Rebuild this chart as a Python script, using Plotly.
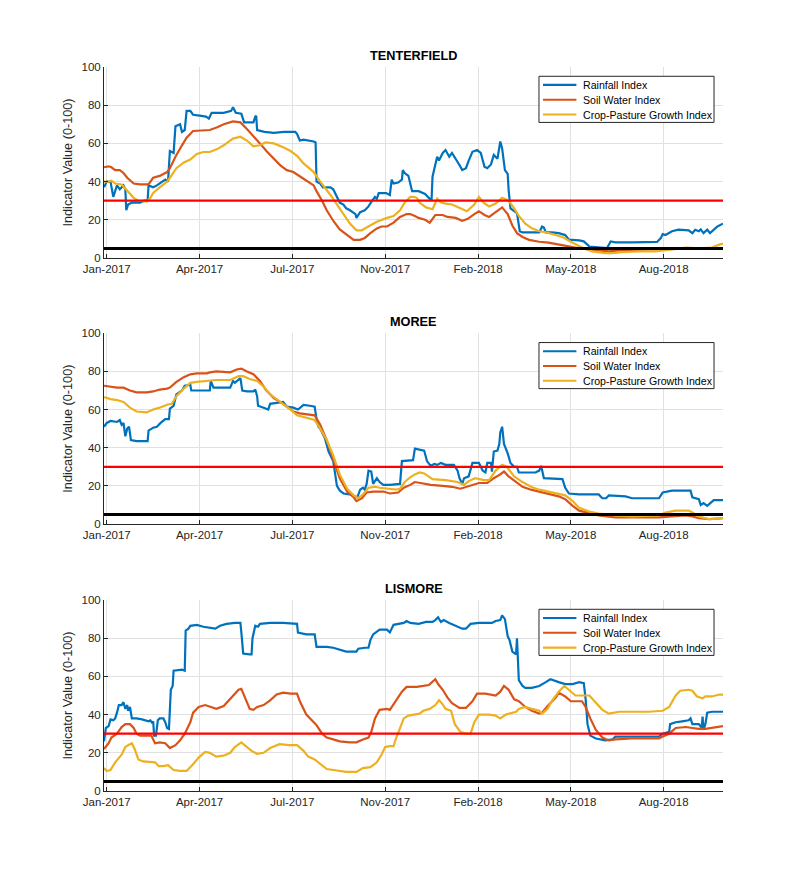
import pandas as pd
import plotly.graph_objects as go

# ---------------- axis / label constants ----------------
BASE_DATE = "2017-01-01"          # day 0
X_START_DAY = 1
X_END_DAY = 668
TICK_START = "2017-01-05"
TICK_STEP_DAYS = 100
TICK_LABELS = ["Jan-2017", "Apr-2017", "Jul-2017", "Nov-2017", "Feb-2018", "May-2018", "Aug-2018"]
Y_TICKS = [0, 20, 40, 60, 80, 100]
Y_TITLE = "Indicator Value (0-100)"
RED_THRESHOLD = 30
BLACK_THRESHOLD = 5
SITES = ["TENTERFIELD", "MOREE", "LISMORE"]
SERIES_NAMES = ["Rainfall Index", "Soil Water Index", "Crop-Pasture Growth Index"]
COLORS = ["#0072BD", "#D95319", "#EDB120"]

# ---------------- data: (day since 2017-01-01, value) ----------------
TENT_RAIN = [(1, 37), (4, 40), (8, 40), (11, 32), (15, 38), (18, 36), (22, 38), (24, 36), (25, 25), (27, 28),
             (31, 29), (40, 29), (44, 30), (48, 30), (49, 38), (54, 37), (58, 38), (65, 40), (67, 41), (70, 40),
             (72, 56), (76, 55), (78, 69), (83, 70), (85, 66), (88, 67), (90, 77), (94, 77), (97, 75), (104, 74.5),
             (111, 74), (114, 73), (117, 76), (123, 76), (130, 76), (138, 77), (140, 79), (143, 76), (149, 75.5),
             (152, 71), (162, 71), (164, 74), (165, 74.5), (166, 67), (174, 66), (184, 65.5), (195, 66), (207, 66),
             (209, 65), (212, 61.5), (216, 62), (227, 61), (229, 60.5), (230, 40), (234, 39), (237, 37), (245, 37),
             (248, 36), (252, 32), (255, 29), (259, 28), (262, 26), (266, 25), (272, 23), (273, 21), (277, 24),
             (282, 25), (286, 27), (290, 30), (293, 32), (295, 31), (297, 34), (305, 34), (309, 33), (311, 41),
             (313, 39), (318, 39.5), (322, 41), (323, 46), (325, 44.5), (329, 43), (333, 35), (340, 35), (347, 33.5),
             (352, 31), (354, 31), (355, 42.6), (358, 48.7), (360, 53), (362, 51), (366, 55), (369, 56.5), (373, 53),
             (376, 55), (380, 52), (384, 48.7), (387, 46), (391, 47), (394, 51), (398, 55.6), (403, 56.5), (407, 55),
             (411, 47.8), (414, 47), (418, 49), (421, 54), (425, 52), (428, 61), (430, 57.4), (433, 46), (436, 44),
             (437, 35.6), (439, 26), (443, 24.3), (446, 23.5), (449, 14), (452, 13.4), (470, 13.4), (473, 16.5),
             (475, 16), (477, 13.4), (484, 13.4), (491, 13), (498, 12), (502, 9.6), (513, 9.2), (518, 8.7), (524, 6),
             (534, 5.7), (543, 5.2), (547, 8.7), (552, 8.2), (570, 8.2), (588, 8.2), (597, 8.4), (601, 10.4),
             (603, 12.5), (606, 12), (613, 14), (620, 14.8), (631, 14.5), (635, 13), (638, 14.8), (642, 14),
             (644, 15), (647, 13), (651, 14.8), (654, 13), (658, 15), (662, 16.5), (668, 18)]
TENT_SOIL = [(1, 47.5), (6, 48), (9, 47.5), (13, 46), (18, 46), (22, 44.5), (26, 42), (33, 39), (40, 38.5), (49, 38.5),
             (51, 40), (54, 42), (61, 43), (69, 45), (72, 47), (78, 53), (85, 59), (90, 63), (97, 66.5), (108, 67),
             (115, 67), (123, 68.5), (130, 70), (140, 71.5), (148, 71), (155, 67.5), (162, 64), (169, 60), (176, 56),
             (184, 52), (191, 48.5), (198, 46), (205, 45), (216, 41.5), (227, 38), (230, 35), (236, 30), (241, 25),
             (248, 19.5), (255, 15), (263, 12), (270, 9.5), (277, 9.5), (282, 10.5), (288, 13), (295, 15.5),
             (300, 16.5), (306, 16.5), (313, 18.5), (320, 21.5), (327, 23), (331, 23), (336, 22), (340, 21),
             (347, 20), (352, 18.5), (358, 22.5), (366, 22.5), (371, 21.5), (380, 21), (387, 19.5), (393, 20.5),
             (400, 23), (405, 24.5), (411, 22.5), (416, 21.5), (423, 24), (430, 26.5), (436, 23), (441, 17),
             (446, 13), (452, 11), (459, 9.5), (470, 8.5), (480, 8), (491, 7), (502, 6), (513, 5), (524, 4.5),
             (534, 4), (545, 3.5), (556, 4), (570, 4), (588, 4.5), (606, 4.7), (624, 5), (642, 5), (668, 5.2)]
TENT_CROP = [(1, 40), (6, 40), (9, 40.5), (13, 39), (20, 38.5), (26, 35), (33, 31.5), (38, 30), (47, 29.5), (51, 31.5),
             (54, 34), (61, 37), (69, 40), (72, 42), (79, 47), (87, 50), (94, 51.5), (101, 54.5), (108, 55.5),
             (115, 55.5), (123, 57), (130, 59), (140, 62.5), (148, 63.5), (155, 61.5), (162, 58.5), (169, 59),
             (175, 60.5), (184, 60), (194, 58), (202, 56), (209, 53.5), (216, 49.5), (227, 45), (234, 40), (245, 33),
             (255, 26), (266, 18), (273, 14.5), (279, 14.5), (284, 16), (295, 19), (306, 21), (313, 22), (320, 25),
             (325, 29), (331, 32), (335, 32), (338, 31.5), (341, 29), (348, 26.5), (355, 25.5), (360, 31), (364, 29),
             (369, 28.5), (376, 28), (385, 26), (392, 24.5), (400, 28), (405, 32), (410, 29), (416, 27), (423, 28.5),
             (430, 31.5), (437, 30), (443, 26), (448, 22), (455, 18), (462, 15.5), (470, 14), (477, 13.5),
             (484, 12.5), (495, 11), (506, 8), (516, 5.5), (527, 3.5), (541, 2.5), (549, 2.5), (559, 3), (577, 3.5),
             (595, 3.5), (613, 4.5), (628, 5.5), (642, 5), (656, 5.5), (664, 7), (668, 7.5)]

MOREE_RAIN = [(1, 51), (4, 53), (8, 54), (15, 53.5), (18, 54.5), (20, 52), (22, 53), (24, 46), (26, 50), (28, 51),
              (30, 44), (36, 43.5), (48, 43.5), (49, 49), (54, 50.5), (58, 51), (62, 53), (67, 55), (71, 55),
              (72, 60.5), (76, 62), (79, 68), (85, 70), (88, 72.5), (94, 73), (95, 70), (108, 70), (115, 70),
              (116, 75), (119, 71.5), (137, 71.5), (140, 75), (142, 74), (146, 76), (148, 76.5), (150, 70),
              (155, 69.5), (162, 69.5), (164, 70.5), (166, 67), (167, 62), (173, 61), (178, 60), (180, 63),
              (187, 63.5), (194, 64), (198, 61.5), (205, 61), (210, 60), (216, 62.5), (223, 62), (228, 61.5),
              (230, 55), (232, 51), (234, 50), (239, 45), (243, 38), (248, 33), (252, 20), (255, 17.5), (259, 16),
              (266, 15.5), (271, 14.5), (274, 14), (277, 18), (280, 19), (282, 18), (284, 21), (286, 28), (289, 27.5),
              (291, 21), (295, 24), (298, 22), (302, 20.5), (309, 20.5), (320, 21), (322, 33), (329, 33.5),
              (334, 33.5), (336, 39.5), (346, 38.5), (349, 33), (353, 30.5), (357, 31.5), (360, 31), (364, 32),
              (369, 31), (378, 31), (382, 28), (384, 24), (387, 21), (389, 24), (394, 25), (398, 32), (405, 32),
              (409, 28), (412, 27), (414, 32), (418, 32), (419, 27.5), (421, 38), (425, 38.5), (427, 42), (428, 48),
              (430, 51), (432, 42), (436, 37), (439, 32), (443, 30), (446, 30), (448, 27), (466, 27), (470, 28),
              (472, 30.5), (473, 28), (475, 24), (495, 23.5), (498, 19), (502, 16), (513, 15.5), (534, 15.5),
              (538, 13.5), (542, 13.5), (545, 15), (563, 14.5), (570, 13.5), (599, 13.5), (603, 16.5), (613, 17.5),
              (633, 17.5), (635, 14), (642, 13), (644, 10), (647, 11), (651, 9.5), (655, 11.5), (658, 12.5),
              (668, 12.5)]
MOREE_SOIL = [(1, 72.5), (8, 72), (15, 71.5), (22, 71.5), (29, 70), (36, 69), (47, 69), (54, 69.5), (61, 70.5),
              (69, 71), (72, 71.5), (79, 74.5), (87, 77), (94, 78.5), (101, 79), (112, 79), (115, 79.5), (122, 80),
              (137, 79.5), (144, 81), (149, 81.5), (155, 80), (162, 78.5), (169, 75), (176, 70), (184, 66), (191, 64),
              (198, 61.5), (205, 59), (212, 58), (223, 57.5), (228, 57), (234, 52), (241, 44), (248, 34), (255, 24),
              (263, 17), (270, 14), (273, 12), (279, 13.5), (284, 16.5), (291, 17), (302, 17), (309, 16), (318, 16.5),
              (324, 19), (331, 20.5), (336, 22), (342, 21.5), (349, 21), (353, 20.5), (366, 20), (376, 19.5),
              (385, 18.5), (394, 20), (405, 21.5), (414, 21.5), (421, 24), (428, 26), (432, 27.5), (437, 25),
              (445, 22), (452, 19.5), (461, 18), (470, 17), (481, 15.5), (491, 14.5), (498, 13), (506, 9.5),
              (513, 7), (524, 5.5), (534, 4.5), (552, 3.5), (599, 3.5), (613, 4), (628, 4.5), (635, 4), (642, 3),
              (653, 2.5), (668, 3)]
MOREE_CROP = [(1, 66.5), (8, 65.5), (15, 65), (22, 64), (29, 61), (36, 59), (47, 58.5), (54, 60), (61, 61), (69, 62.5),
              (74, 63), (79, 67), (87, 71), (94, 74), (101, 74.5), (112, 75), (122, 75.5), (137, 75.5), (146, 77.5),
              (151, 77.5), (158, 76), (166, 75), (173, 72), (180, 68), (187, 65.5), (194, 63), (202, 60), (209, 57),
              (219, 55.5), (228, 54.5), (234, 50), (241, 44), (248, 36), (255, 26), (263, 18.5), (270, 15),
              (275, 13.5), (280, 15.5), (286, 19), (293, 19.5), (298, 19), (306, 18.5), (316, 18), (320, 18.5),
              (325, 22), (331, 24.5), (336, 26), (341, 27), (346, 26.5), (355, 23.5), (369, 23), (382, 22),
              (389, 20.5), (394, 22.5), (401, 24), (410, 23), (416, 23), (423, 28), (430, 31), (435, 30), (443, 25),
              (452, 22), (461, 19.5), (470, 18), (480, 17), (491, 16), (498, 15), (506, 12), (513, 8.5), (524, 6.5),
              (534, 5.5), (552, 4.5), (570, 4), (599, 4.5), (606, 6), (617, 7), (631, 7), (635, 6), (642, 4),
              (653, 2.5), (664, 3), (668, 3)]

LIS_RAIN = [(1, 26), (3, 33), (6, 34), (8, 37.5), (11, 37), (13, 38), (15, 41), (17, 45), (20, 45), (22, 46.5),
            (24, 43), (26, 45), (27, 42), (29, 44), (31, 38), (36, 38), (42, 37.5), (45, 37), (49, 36.5), (51, 37),
            (53, 35.5), (54, 36.5), (55, 29), (57, 29), (59, 37), (61, 38), (65, 38), (67, 36), (69, 33), (71, 32.5),
            (73, 53), (75, 55), (76, 63), (85, 63.5), (88, 63), (89, 84), (92, 85), (94, 86.5), (101, 87), (108, 86),
            (115, 85.5), (121, 85), (126, 86.5), (133, 87.5), (142, 88), (148, 88), (149, 83), (151, 72), (158, 71.5),
            (160, 71.5), (161, 80), (164, 86.5), (167, 86), (169, 87.5), (180, 88), (194, 88), (209, 87.5), (210, 83),
            (219, 82), (228, 82), (230, 75.5), (241, 75.5), (248, 75), (255, 74), (262, 73), (273, 73), (275, 74.5),
            (282, 75), (286, 75), (288, 79), (291, 82), (298, 84.5), (306, 84.5), (309, 83), (313, 87), (324, 88),
            (327, 89), (331, 88), (340, 87.5), (348, 88.5), (355, 88.5), (358, 89.5), (361, 91), (364, 88.5),
            (367, 89.5), (373, 88), (380, 86.5), (387, 85), (391, 85), (396, 87.5), (405, 88), (419, 88), (423, 89),
            (428, 89.5), (430, 92), (433, 90), (436, 81), (438, 79), (441, 73), (445, 71.5), (446, 80), (447, 70),
            (448, 58), (452, 55), (455, 54), (462, 54), (470, 55), (477, 57), (482, 58.5), (491, 57), (498, 56),
            (506, 56), (513, 57), (518, 56.5), (520, 48), (522, 35), (525, 29), (531, 27.5), (536, 27), (541, 26.5),
            (549, 27), (552, 28.5), (570, 28.5), (599, 28.5), (603, 30), (606, 30.5), (610, 31), (611, 35), (617, 36),
            (624, 36.5), (631, 37), (633, 38), (635, 35), (642, 35), (645, 33), (646, 39), (647, 32), (649, 35),
            (651, 41), (656, 41.5), (668, 41.5)]
LIS_SOIL = [(1, 22), (6, 25), (9, 28), (15, 30), (20, 33.5), (24, 35), (29, 35), (33, 33), (36, 30), (40, 29), (47, 29),
            (52, 29), (56, 25), (61, 25.5), (67, 25), (72, 22.5), (78, 24), (83, 26.5), (88, 30), (94, 36), (97, 41),
            (103, 44), (110, 45), (115, 44), (122, 43), (130, 44.5), (139, 49), (146, 53), (149, 53.5), (153, 49),
            (158, 43), (162, 42.5), (166, 44), (173, 45), (180, 47.5), (187, 50.5), (194, 51.5), (202, 51),
            (209, 51), (212, 47), (219, 40), (227, 36), (230, 34.5), (236, 30), (241, 28), (248, 27), (255, 26),
            (266, 25.5), (273, 25.5), (280, 27), (286, 28), (289, 31), (293, 38), (298, 42.5), (306, 43),
            (309, 42.5), (316, 48), (322, 52), (327, 54.5), (338, 54.5), (345, 55), (351, 55.5), (358, 58.5),
            (361, 56), (366, 53), (371, 49), (376, 46), (384, 43.5), (391, 43.5), (398, 47), (403, 51), (412, 51),
            (423, 50), (428, 52), (432, 55), (437, 53), (443, 48), (448, 47), (455, 44), (462, 42), (470, 40.5),
            (473, 41), (480, 45), (488, 49), (491, 51.5), (498, 49.5), (504, 47), (516, 47), (520, 44), (525, 38),
            (531, 32), (538, 28), (545, 26.5), (552, 27), (570, 27.5), (599, 27.5), (603, 28.5), (610, 30),
            (617, 33), (628, 33.5), (635, 33), (642, 32.5), (649, 32.5), (660, 33.5), (668, 34)]
LIS_CROP = [(1, 12), (4, 10.5), (8, 11), (13, 15), (20, 19), (24, 23), (27, 24), (31, 25), (34, 22), (38, 16.5),
            (43, 15.5), (51, 15), (56, 15), (60, 13), (65, 13), (70, 13.5), (76, 11), (83, 10.5), (90, 10.5),
            (97, 14), (103, 17.5), (110, 20.5), (115, 20), (122, 18), (130, 18.5), (137, 20), (142, 23), (149, 25.5),
            (155, 23), (160, 21), (166, 19.5), (173, 20), (180, 22.5), (190, 24.5), (201, 24), (209, 24), (216, 21),
            (221, 18), (228, 16.5), (234, 14), (241, 11.5), (248, 11), (255, 10.5), (262, 10), (273, 10), (280, 12),
            (288, 12.5), (295, 15), (300, 19), (304, 23), (309, 23.5), (313, 23.5), (316, 28), (320, 33), (324, 38),
            (329, 39.5), (334, 40), (341, 40.5), (345, 42), (352, 43), (358, 45), (362, 47.5), (365, 46), (369, 43),
            (375, 42), (379, 35), (385, 31), (391, 30), (396, 30), (400, 36), (405, 40), (416, 40), (423, 39.5),
            (428, 38), (434, 40), (441, 41), (445, 41.5), (448, 43), (455, 44), (462, 43), (470, 42), (473, 40.5),
            (479, 43), (484, 47.5), (491, 52), (497, 55), (502, 53), (509, 50), (524, 50), (531, 46), (538, 42.5),
            (545, 40.5), (556, 41.5), (588, 41.5), (603, 42), (610, 44), (617, 50), (622, 52.5), (631, 53),
            (635, 52.5), (640, 49.5), (646, 48.5), (649, 49.5), (656, 49.5), (664, 50.5), (668, 50.5)]

DATA = {
    "TENTERFIELD": [TENT_RAIN, TENT_SOIL, TENT_CROP],
    "MOREE": [MOREE_RAIN, MOREE_SOIL, MOREE_CROP],
    "LISMORE": [LIS_RAIN, LIS_SOIL, LIS_CROP],
}

# ---------------- helpers ----------------
BASE = pd.Timestamp(BASE_DATE)


def to_dates(days):
    return [BASE + pd.Timedelta(days=float(d)) for d in days]


TICK_VALS = list(pd.date_range(start=TICK_START, periods=len(TICK_LABELS), freq=f"{TICK_STEP_DAYS}D"))
X_RANGE = to_dates([X_START_DAY, X_END_DAY])

FONT = "Liberation Sans, Arial, Helvetica, sans-serif"
AX_COLOR = "#262626"
GRID_COLOR = "#E1E1E1"

DOMAINS = [(0.7362, 1.0), (0.3688, 0.6322), (0.0, 0.2638)]

fig = go.Figure()
layout_axes = {}
shapes = []
annotations = []

for i, site in enumerate(SITES):
    sfx = "" if i == 0 else str(i + 1)
    xid, yid = "x" + sfx, "y" + sfx
    for name, color, pts in zip(SERIES_NAMES, COLORS, DATA[site]):
        days = [p[0] for p in pts]
        vals = [p[1] for p in pts]
        fig.add_trace(go.Scatter(x=to_dates(days), y=vals, mode="lines", name=name,
                                 line=dict(color=color, width=2.2, shape="linear"),
                                 showlegend=False, xaxis=xid, yaxis=yid))
    for level, color, width in [(RED_THRESHOLD, "#FF0000", 2.2), (BLACK_THRESHOLD, "#000000", 3)]:
        fig.add_trace(go.Scatter(x=X_RANGE, y=[level, level], mode="lines",
                                 line=dict(color=color, width=width),
                                 showlegend=False, hoverinfo="skip", xaxis=xid, yaxis=yid))

    layout_axes["xaxis" + sfx] = dict(
        domain=[0, 1], anchor=yid, type="date", range=X_RANGE,
        tickmode="array", tickvals=TICK_VALS, ticktext=TICK_LABELS,
        ticks="inside", ticklen=4, tickwidth=1, tickcolor=AX_COLOR,
        showline=True, linecolor=AX_COLOR, linewidth=1, mirror=False,
        showgrid=True, gridcolor=GRID_COLOR, gridwidth=1, zeroline=False,
        tickfont=dict(family=FONT, size=11.5, color=AX_COLOR),
    )
    layout_axes["yaxis" + sfx] = dict(
        domain=list(DOMAINS[i]), anchor=xid, range=[0, 100],
        tickmode="array", tickvals=Y_TICKS,
        ticks="inside", ticklen=4, tickwidth=1, tickcolor=AX_COLOR,
        showline=True, linecolor=AX_COLOR, linewidth=1, mirror=False,
        showgrid=True, gridcolor=GRID_COLOR, gridwidth=1, zeroline=False,
        tickfont=dict(family=FONT, size=11.5, color=AX_COLOR),
        title=dict(text=Y_TITLE, font=dict(family=FONT, size=12.7, color=AX_COLOR), standoff=6),
    )

    xd, yd = xid + " domain", yid + " domain"
    # title
    annotations.append(dict(text=f"<b>{site}</b>", xref=xd, yref=yd, x=0.5, y=1.057,
                            xanchor="center", yanchor="middle", showarrow=False,
                            font=dict(family=FONT, size=12.7, color="#000000")))
    # legend box
    shapes.append(dict(type="rect", xref=xd, yref=yd, x0=0.7027, x1=0.9855, y0=0.7099, y1=0.9514,
                       line=dict(color=AX_COLOR, width=1), fillcolor="white", layer="above"))
    for name, color, yrow in zip(SERIES_NAMES, COLORS, [0.9059, 0.8285, 0.7512]):
        shapes.append(dict(type="line", xref=xd, yref=yd, x0=0.7092, x1=0.7632, y0=yrow, y1=yrow,
                           line=dict(color=color, width=2.2), layer="above"))
        annotations.append(dict(text=name, xref=xd, yref=yd, x=0.7701, y=yrow,
                                xanchor="left", yanchor="middle", showarrow=False,
                                font=dict(family=FONT, size=10.6, color="#000000")))

# the page body adds an 8 px offset, so the figure is 8 px smaller and its margins shifted
fig.update_layout(
    width=792, height=881,
    margin=dict(l=96, r=77, t=59, b=98),
    paper_bgcolor="white", plot_bgcolor="white",
    showlegend=False,
    shapes=shapes, annotations=annotations,
    font=dict(family=FONT, color=AX_COLOR),
    **layout_axes,
)

fig.write_html("out.html")
